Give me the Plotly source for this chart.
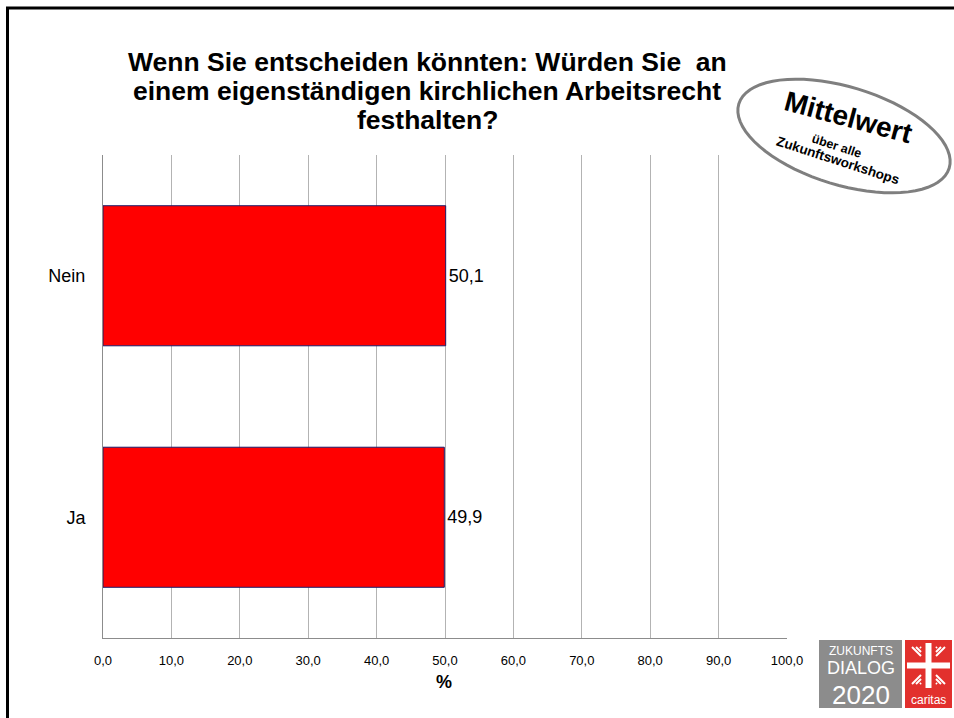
import math
import plotly.graph_objects as go

# ---- data ----
categories = ["Nein", "Ja"]
values = [50.1, 49.9]
x_ticks = [0, 10, 20, 30, 40, 50, 60, 70, 80, 90, 100]
title_lines = ["Wenn Sie entscheiden könnten: Würden Sie  an",
               "einem eigenständigen kirchlichen Arbeitsrecht",
               "festhalten?"]
x_title = "%"

W, H = 954, 718
L, R, T, B = 103, 787, 155, 638


def px(x):
    return (x - L) / (R - L)


def py(y):
    return (B - y) / (B - T)


FONT = "Liberation Sans, Arial, sans-serif"

fig = go.Figure()
fig.add_trace(go.Bar(
    y=categories, x=values, orientation="h",
    marker=dict(color="#ff0000", line=dict(color="#1c1c6a", width=1)),
    width=0.58,
    text=[f"{v:.1f}".replace(".", ",") for v in values],
    textposition="outside",
    textfont=dict(family=FONT, size=18, color="#000000"),
    cliponaxis=False,
    hoverinfo="skip",
))

shapes = []
# slide border (top & left)
shapes.append(dict(type="line", xref="paper", yref="paper",
                   x0=px(6), x1=px(954), y0=py(8), y1=py(8),
                   line=dict(color="#000000", width=3)))
shapes.append(dict(type="line", xref="paper", yref="paper",
                   x0=px(7.5), x1=px(7.5), y0=py(7), y1=py(720),
                   line=dict(color="#000000", width=3)))

# rotated ellipse
cx, cy, a, b, ang = 844, 136, 110, 49, math.radians(17)
pts = []
for i in range(73):
    t = 2 * math.pi * i / 72
    ex = a * math.cos(t)
    ey = b * math.sin(t)
    X = cx + ex * math.cos(ang) - ey * math.sin(ang)
    Y = cy + ex * math.sin(ang) + ey * math.cos(ang)
    pts.append((px(X), py(Y)))
path = "M " + " L ".join(f"{x:.5f},{y:.5f}" for x, y in pts) + " Z"
shapes.append(dict(type="path", xref="paper", yref="paper", path=path,
                   fillcolor="#ffffff", line=dict(color="#7f7f7f", width=3),
                   layer="above"))

# logo boxes
shapes.append(dict(type="rect", xref="paper", yref="paper",
                   x0=px(819), x1=px(902), y0=py(640), y1=py(708),
                   fillcolor="#8c8c8c", line=dict(width=0), layer="above"))
shapes.append(dict(type="rect", xref="paper", yref="paper",
                   x0=px(905), x1=px(952), y0=py(640), y1=py(708),
                   fillcolor="#e2302d", line=dict(width=0), layer="above"))
# caritas cross
shapes.append(dict(type="rect", xref="paper", yref="paper",
                   x0=px(925.5), x1=px(931.5), y0=py(643), y1=py(688),
                   fillcolor="#ffffff", line=dict(width=0), layer="above"))
shapes.append(dict(type="rect", xref="paper", yref="paper",
                   x0=px(907), x1=px(950), y0=py(662.5), y1=py(668.5),
                   fillcolor="#ffffff", line=dict(width=0), layer="above"))
# rays of the flame cross
for (sx, sy, dx, dy) in [(912, 647, 1, 1), (945, 647, -1, 1), (912, 684, 1, -1), (945, 684, -1, -1)]:
    for k in range(3):
        o = k * 4
        shapes.append(dict(type="line", xref="paper", yref="paper",
                           x0=px(sx + dx * o), y0=py(sy),
                           x1=px(sx + dx * 9), y1=py(sy + dy * (9 - o)),
                           line=dict(color="#ffffff", width=2), layer="above"))

annotations = []
for i, line in enumerate(title_lines):
    annotations.append(dict(text=f"<b>{line}</b>", xref="paper", yref="paper",
                            x=px(427), y=py(62 + 29 * i), xanchor="center", yanchor="middle",
                            showarrow=False, font=dict(family=FONT, size=26.5, color="#000000")))
annotations.append(dict(text="<b>%</b>", xref="paper", yref="paper",
                        x=px(444), y=py(682), xanchor="center", yanchor="middle",
                        showarrow=False, font=dict(family=FONT, size=18, color="#000000")))
annotations.append(dict(text="<b>Mittelwert</b>", xref="paper", yref="paper",
                        x=px(849), y=py(117), xanchor="center", yanchor="middle", textangle=15,
                        showarrow=False, font=dict(family=FONT, size=28, color="#000000")))
annotations.append(dict(text="<b>über alle</b>", xref="paper", yref="paper",
                        x=px(836), y=py(146), xanchor="center", yanchor="middle", textangle=18,
                        showarrow=False, font=dict(family=FONT, size=12.5, color="#000000")))
annotations.append(dict(text="<b>Zukunftsworkshops</b>", xref="paper", yref="paper",
                        x=px(838), y=py(160), xanchor="center", yanchor="middle", textangle=18,
                        showarrow=False, font=dict(family=FONT, size=13.5, color="#000000")))
# logo text
annotations.append(dict(text="ZUKUNFTS", xref="paper", yref="paper",
                        x=px(860.5), y=py(651), xanchor="center", yanchor="middle",
                        showarrow=False, font=dict(family=FONT, size=12, color="#ffffff")))
annotations.append(dict(text="DIALOG", xref="paper", yref="paper",
                        x=px(860.5), y=py(668), xanchor="center", yanchor="middle",
                        showarrow=False, font=dict(family=FONT, size=18, color="#ffffff")))
annotations.append(dict(text="2020", xref="paper", yref="paper",
                        x=px(860.5), y=py(695), xanchor="center", yanchor="middle",
                        showarrow=False, font=dict(family=FONT, size=26, color="#ffffff")))
annotations.append(dict(text="caritas", xref="paper", yref="paper",
                        x=px(928.5), y=py(700), xanchor="center", yanchor="middle",
                        showarrow=False, font=dict(family=FONT, size=12, color="#ffffff")))

fig.update_layout(
    width=W, height=H,
    margin=dict(l=L, r=W - R, t=T, b=H - B, pad=0),
    paper_bgcolor="#ffffff", plot_bgcolor="#ffffff",
    separators=",.",
    showlegend=False,
    shapes=shapes, annotations=annotations,
    font=dict(family=FONT, color="#000000"),
    bargap=0.42,
)
fig.update_xaxes(range=[0, 100], tickvals=x_ticks, tickformat=".1f",
                 showgrid=True, gridcolor="#b3b3b3", gridwidth=1,
                 showline=True, linecolor="#8c8c8c", linewidth=1,
                 ticks="", tickfont=dict(family=FONT, size=13, color="#000000"),
                 ticklabelstandoff=10, zeroline=False, fixedrange=True)
fig.update_yaxes(categoryorder="array", categoryarray=categories, autorange="reversed",
                 showgrid=False, showline=True, linecolor="#8c8c8c", linewidth=1,
                 ticks="", tickfont=dict(family=FONT, size=18, color="#000000"),
                 ticklabelstandoff=13, fixedrange=True)

fig.write_html("out.html")
